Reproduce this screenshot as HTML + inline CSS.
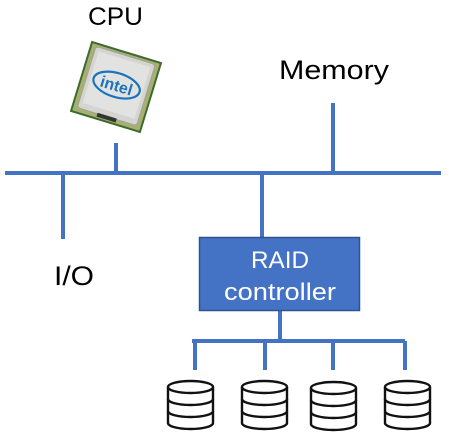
<!DOCTYPE html>
<html><head><style>html,body{margin:0;padding:0;background:#fff;}svg{display:block}</style></head>
<body>
<svg width="449" height="443" viewBox="0 0 449 443" xmlns="http://www.w3.org/2000/svg" font-family="Liberation Sans, DejaVu Sans, sans-serif">
<defs>
<g id="disk" fill="#fff" stroke="#111" stroke-width="2.4">
<path d="M1,7 L1,43 A22.5,6 0 0 0 46,43 L46,7"/>
<ellipse cx="23.5" cy="7" rx="22.5" ry="6"/>
<path d="M1,19 A22.5,6 0 0 0 46,19" fill="none"/>
<path d="M1,31 A22.5,6 0 0 0 46,31" fill="none"/>
</g>
</defs>
<g stroke="#4472c4" stroke-width="4" fill="none">
<line x1="5" y1="173" x2="441" y2="173"/>
<line x1="116" y1="143" x2="116" y2="173"/>
<line x1="333" y1="103" x2="333" y2="173"/>
<line x1="63" y1="173" x2="63" y2="239"/>
<line x1="262" y1="173" x2="262" y2="238"/>
<line x1="280" y1="311" x2="280" y2="341"/>
<line x1="192" y1="341" x2="405" y2="341"/>
<line x1="195" y1="341" x2="195" y2="370"/>
<line x1="265" y1="341" x2="265" y2="370"/>
<line x1="333" y1="341" x2="333" y2="370"/>
<line x1="405" y1="341" x2="405" y2="370"/>
</g>
<rect x="199.5" y="237.5" width="160" height="73" fill="#4472c4" stroke="#2f528f" stroke-width="1.5"/>
<text x="251" y="268" font-size="24" fill="#fff" textLength="58" lengthAdjust="spacingAndGlyphs">RAID</text>
<text x="224" y="300" font-size="24" fill="#fff" textLength="112" lengthAdjust="spacingAndGlyphs">controller</text>
<text x="88" y="25" font-size="25" fill="#000" textLength="55" lengthAdjust="spacingAndGlyphs">CPU</text>
<text x="279" y="79" font-size="27" fill="#000" textLength="110" lengthAdjust="spacingAndGlyphs">Memory</text>
<text x="54" y="285" font-size="27" fill="#000" textLength="40" lengthAdjust="spacingAndGlyphs">I/O</text>
<g transform="translate(116,87) rotate(17)">
<rect x="-37" y="-37" width="74" height="74" fill="#3d6a2e"/>
<rect x="-35" y="-35" width="70" height="70" fill="#a8b070"/>
<rect x="-31" y="-33" width="62" height="64" rx="3" fill="#d4d5d1" stroke="#a0a29e" stroke-width="1"/>
<rect x="-27" y="-29" width="54" height="54" fill="#e2e3e0"/>
<ellipse cx="0" cy="-2" rx="24" ry="12" fill="none" stroke="#1a73c0" stroke-width="2.2"/>
<text x="0" y="4" font-size="16" font-weight="bold" fill="#1a73c0" text-anchor="middle">intel</text>
<rect x="-10" y="30" width="20" height="4" fill="#333"/>
</g>
<use href="#disk" x="167" y="380"/>
<use href="#disk" x="241" y="380"/>
<use href="#disk" x="310" y="381"/>
<use href="#disk" x="384" y="380"/>
</svg>
</body></html>
